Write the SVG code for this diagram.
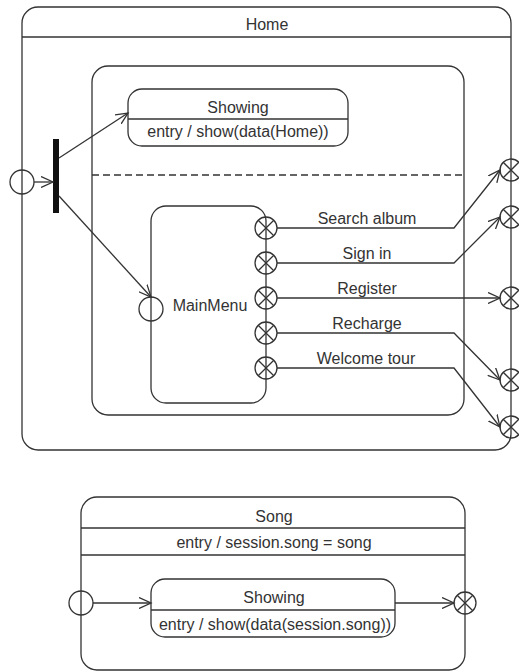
<svg xmlns="http://www.w3.org/2000/svg" xmlns:xlink="http://www.w3.org/1999/xlink" width="519" height="671" viewBox="0 0 519 671">
<style>
  .s{fill:#fff;stroke:#333;stroke-width:1.3}
  .p{fill:none;stroke:#333;stroke-width:1.3}
  .l{fill:none;stroke:#333;stroke-width:1.3}
  .t{font-family:"Liberation Sans",Arial,sans-serif;font-size:16px;fill:#333;text-anchor:middle}
  .c{fill:none;stroke:#333;stroke-width:1.3}
</style>
<defs>
  <marker id="arr" markerWidth="14" markerHeight="12" refX="12" refY="6" orient="auto" markerUnits="userSpaceOnUse">
    <path d="M0,0.5 L12,6 L0,11.5" fill="none" stroke="#333" stroke-width="1.3"/>
  </marker>
  <g id="xp">
    <circle r="11" fill="none" stroke="#333" stroke-width="1.3"/>
    <path d="M-7.8,-7.8 L7.8,7.8 M-7.8,7.8 L7.8,-7.8" stroke="#333" stroke-width="1.3"/>
  </g>
</defs>
<rect width="519" height="671" fill="#fff"/>

<g id="home">
  <rect class="s" x="22" y="7" width="489" height="443" rx="16"/>
  <line class="l" x1="22" y1="37" x2="511" y2="37"/>
  <text class="t" x="267" y="30">Home</text>
</g>

<g id="region">
  <rect class="s" x="92" y="66" width="372" height="349" rx="16"/>
  <line class="l" x1="92" y1="175" x2="464" y2="175" stroke-dasharray="7,4"/>
</g>

<g id="showing-home">
  <rect class="s" x="128" y="89" width="220" height="57" rx="14"/>
  <line class="l" x1="128" y1="119" x2="348" y2="119"/>
  <text class="t" x="238" y="113">Showing</text>
  <text class="t" x="238" y="137">entry / show(data(Home))</text>
</g>

<g id="mainmenu">
  <rect class="s" x="151" y="206" width="115" height="197" rx="15"/>
  <text class="t" x="210" y="311">MainMenu</text>
</g>

<g id="home-initial">
  <circle class="p" cx="22" cy="182" r="12"/>
</g>

<g id="fork">
  <rect x="53" y="139" width="6" height="74" fill="#111"/>
</g>

<g id="mainmenu-entry">
  <circle class="p" cx="151" cy="309" r="12"/>
</g>

<g id="mainmenu-exits">
  <use xlink:href="#xp" x="266" y="228"/>
  <use xlink:href="#xp" x="266" y="263"/>
  <use xlink:href="#xp" x="266" y="298"/>
  <use xlink:href="#xp" x="266" y="333"/>
  <use xlink:href="#xp" x="266" y="368"/>
</g>

<g id="home-exits">
  <use xlink:href="#xp" x="511" y="170"/>
  <use xlink:href="#xp" x="511" y="217"/>
  <use xlink:href="#xp" x="511" y="298"/>
  <use xlink:href="#xp" x="511" y="380"/>
  <use xlink:href="#xp" x="511" y="427"/>
</g>

<g id="song">
  <rect class="s" x="81" y="497" width="384" height="173" rx="16"/>
  <line class="l" x1="81" y1="528" x2="465" y2="528"/>
  <line class="l" x1="81" y1="555" x2="465" y2="555"/>
  <text class="t" x="274" y="522">Song</text>
  <text class="t" x="274" y="548">entry / session.song = song</text>
</g>

<g id="showing-song">
  <rect class="s" x="151" y="579" width="244" height="58" rx="14"/>
  <line class="l" x1="151" y1="610" x2="395" y2="610"/>
  <text class="t" x="274" y="603">Showing</text>
  <text class="t" x="275" y="630">entry / show(data(session.song))</text>
</g>

<g id="song-initial">
  <circle class="p" cx="81" cy="603" r="12"/>
</g>

<g id="song-exit">
  <use xlink:href="#xp" x="465" y="603"/>
</g>

<g id="connectors">
  <line class="c" x1="34" y1="182" x2="53" y2="182" marker-end="url(#arr)"/>
  <line class="c" x1="59" y1="158" x2="128" y2="113" marker-end="url(#arr)"/>
  <line class="c" x1="59" y1="196" x2="151" y2="297" marker-end="url(#arr)"/>
  <polyline class="c" points="277,228 454,228 500,170" marker-end="url(#arr)"/>
  <polyline class="c" points="277,263 454,263 500,217" marker-end="url(#arr)"/>
  <polyline class="c" points="277,298 500,298" marker-end="url(#arr)"/>
  <polyline class="c" points="277,333 454,333 500,380" marker-end="url(#arr)"/>
  <polyline class="c" points="277,368 454,368 500,427" marker-end="url(#arr)"/>
  <line class="c" x1="93" y1="603" x2="151" y2="603" marker-end="url(#arr)"/>
  <line class="c" x1="395" y1="603" x2="454" y2="603" marker-end="url(#arr)"/>
  <text class="t" x="367" y="224">Search album</text>
  <text class="t" x="367" y="259">Sign in</text>
  <text class="t" x="367" y="294">Register</text>
  <text class="t" x="367" y="329">Recharge</text>
  <text class="t" x="366" y="364">Welcome tour</text>
</g>
</svg>
